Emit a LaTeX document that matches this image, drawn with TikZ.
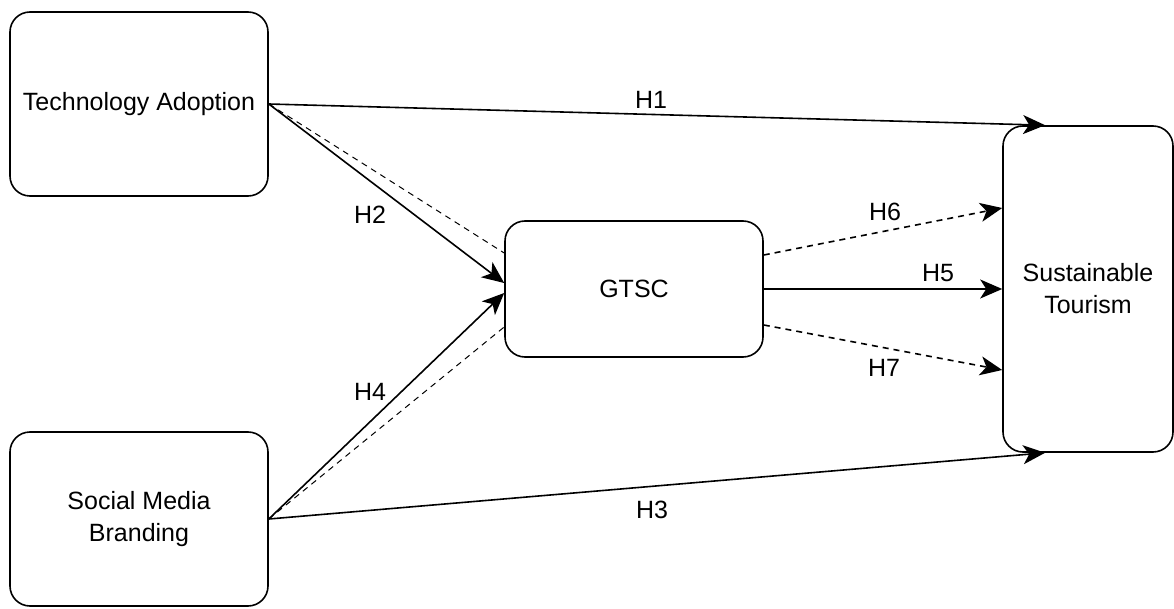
\documentclass[tikz,border=0pt]{standalone}
\usepackage{fontspec}
\setmainfont{Liberation Sans}
\usetikzlibrary{arrows.meta,calc,positioning}

\begin{document}
\begin{tikzpicture}[
    x=1pt, y=-1pt,
    every node/.style={font=\fontsize{25}{32}\selectfont},
    construct/.style={rectangle, draw, line width=1.6pt, rounded corners=20pt, align=center},
    hyp/.style={-{Stealth[length=22pt, width=19pt, inset=6pt]}, line width=1.6pt},
    dashhyp/.style={hyp, dash pattern=on 6pt off 5pt},
    link/.style={line width=1pt, dash pattern=on 6pt off 5pt},
    lbl/.style={inner sep=1pt}
]
\useasboundingbox (0,0) rectangle (1174,609);

\node[construct, minimum width=258pt, minimum height=184pt] (tech) at (139,104) {Technology Adoption};
\node[construct, minimum width=258pt, minimum height=174pt] (social) at (139,519) {Social Media\\Branding};
\node[construct, minimum width=258pt, minimum height=136pt] (gtsc) at (634,289) {GTSC};
\node[construct, minimum width=170pt, minimum height=326pt] (tour) at (1088,289) {Sustainable\\Tourism};

% direct paths
\draw[hyp] (tech.east) -- ($(tour.north west)!0.25!(tour.north east)$);
\draw[hyp] (social.east) -- ($(tour.south west)!0.25!(tour.south east)$);

% paths into GTSC
\draw[hyp] (tech.east) -- ([yshift=6pt]gtsc.west);
\draw[hyp] (social.east) -- ([yshift=-4pt]gtsc.west);
\draw[link] (tech.east) -- ([yshift=36pt]gtsc.west);
\draw[link] (social.east) -- ([yshift=-38pt]gtsc.west);

% paths out of GTSC
\draw[dashhyp] ([yshift=34pt]gtsc.east) -- ([yshift=81pt]tour.west);
\draw[hyp] (gtsc.east) -- (tour.west);
\draw[dashhyp] ([yshift=-36pt]gtsc.east) -- ([yshift=-81pt]tour.west);

\node[lbl] (h1) at (651,100) {H1};
\node[lbl] (h2) at (370,215) {H2};
\node[lbl] (h3) at (652,510) {H3};
\node[lbl] (h4) at (370,392) {H4};
\node[lbl] (h5) at (938,273) {H5};
\node[lbl] (h6) at (885,212) {H6};
\node[lbl] (h7) at (884,368) {H7};
\end{tikzpicture}
\end{document}
